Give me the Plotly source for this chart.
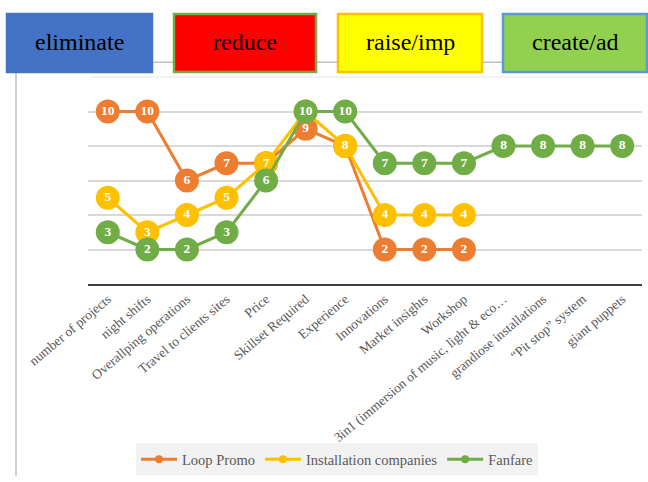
import plotly.graph_objects as go

categories = ["number of projects", "night shifts", "Overallping operations", "Travel to clients sites",
              "Price", "Skillset Required", "Experience", "Innovations", "Market insights", "Workshop",
              "3in1 (immersion of music, light & eco…", "grandiose installations", "“Pit stop” system", "giant puppets"]
loop_promo = [10, 10, 6, 7, 7, 9, 8, 2, 2, 2, None, None, None, None]
installation = [5, 3, 4, 5, 7, 10, 8, 4, 4, 4, None, None, None, None]
fanfare = [3, 2, 2, 3, 6, 10, 10, 7, 7, 7, 8, 8, 8, 8]

box_labels = ["eliminate", "reduce", "raise/imp", "create/ad"]

W, H = 648, 482
L, R, T, B = 88, 6, 77, 195
PW = W - L - R
PH = H - T - B


def px(x):
    return (x - L) / PW


def py(y):
    return (H - B - y) / PH


fig = go.Figure()
series = [("Loop Promo", loop_promo, "#ED7D31"),
          ("Installation companies", installation, "#FFC000"),
          ("Fanfare", fanfare, "#70AD47")]
for name, vals, col in series:
    fig.add_trace(go.Scatter(
        x=categories, y=vals, name=name, mode="lines+markers+text",
        line=dict(color=col, width=3),
        marker=dict(color=col, size=24),
        text=[None if v is None else f"<b>{v}</b>" for v in vals],
        textposition="middle center",
        textfont=dict(color="white", size=13.5, family="Liberation Serif"),
        connectgaps=False, showlegend=False,
    ))
for name, vals, col in series:
    fig.add_trace(go.Scatter(
        x=[None], y=[None], name=name, mode="lines+markers",
        line=dict(color=col, width=3), marker=dict(color=col, size=8),
        showlegend=True,
    ))

shapes = []
shapes.append(dict(type="line", xref="paper", yref="paper", x0=px(152), x1=px(648), y0=py(62), y1=py(62),
                   line=dict(color="#BFBFBF", width=1.5)))
shapes.append(dict(type="line", xref="paper", yref="paper", x0=px(90), x1=px(648), y0=py(77), y1=py(77),
                   line=dict(color="#EEEEEE", width=1.5)))
shapes.append(dict(type="line", xref="paper", yref="paper", x0=px(16), x1=px(16), y0=py(72), y1=py(482),
                   line=dict(color="#BFBFBF", width=1.5)))

boxes = [(7, 152, "#4472C4", "#4472C4"),
         (174, 316, "#FF0000", "#70AD47"),
         (338, 482, "#FFFF00", "#FFC000"),
         (503, 647, "#92D050", "#5B9BD5")]
annotations = []
for (x0, x1, fill, border), lab in zip(boxes, box_labels):
    shapes.append(dict(type="rect", xref="paper", yref="paper", x0=px(x0), x1=px(x1), y0=py(72), y1=py(13),
                       fillcolor=fill, line=dict(color=border, width=2.5)))
    annotations.append(dict(xref="paper", yref="paper", x=px((x0 + x1) / 2), y=py(42), text=lab,
                            showarrow=False, xanchor="center", yanchor="middle",
                            font=dict(family="Liberation Serif", size=24, color="black")))

fig.update_layout(
    width=W, height=H,
    margin=dict(l=L, r=R, t=T, b=B),
    paper_bgcolor="white", plot_bgcolor="white",
    shapes=shapes, annotations=annotations,
    showlegend=True,
    legend=dict(orientation="h", x=px(337), xanchor="center", y=py(481), yanchor="bottom",
                bgcolor="#F2F2F2", font=dict(family="Liberation Serif", size=14.5, color="#595959"),
                tracegroupgap=0, itemwidth=36),
    xaxis=dict(type="category", range=[-0.5, 13.5], showgrid=False, showline=True,
               linecolor="#404040", linewidth=2, ticks="", tickangle=-40, automargin=False,
               tickfont=dict(family="Liberation Serif", size=13.5, color="#595959")),
    yaxis=dict(range=[0, 12], dtick=2, showgrid=True, gridcolor="#D9D9D9", gridwidth=1.5,
               showticklabels=False, zeroline=False, showline=False, automargin=False),
)

fig.write_html("out.html", config={"displayModeBar": False},
               post_script="document.body.style.margin='0';document.body.style.overflow='hidden';")
